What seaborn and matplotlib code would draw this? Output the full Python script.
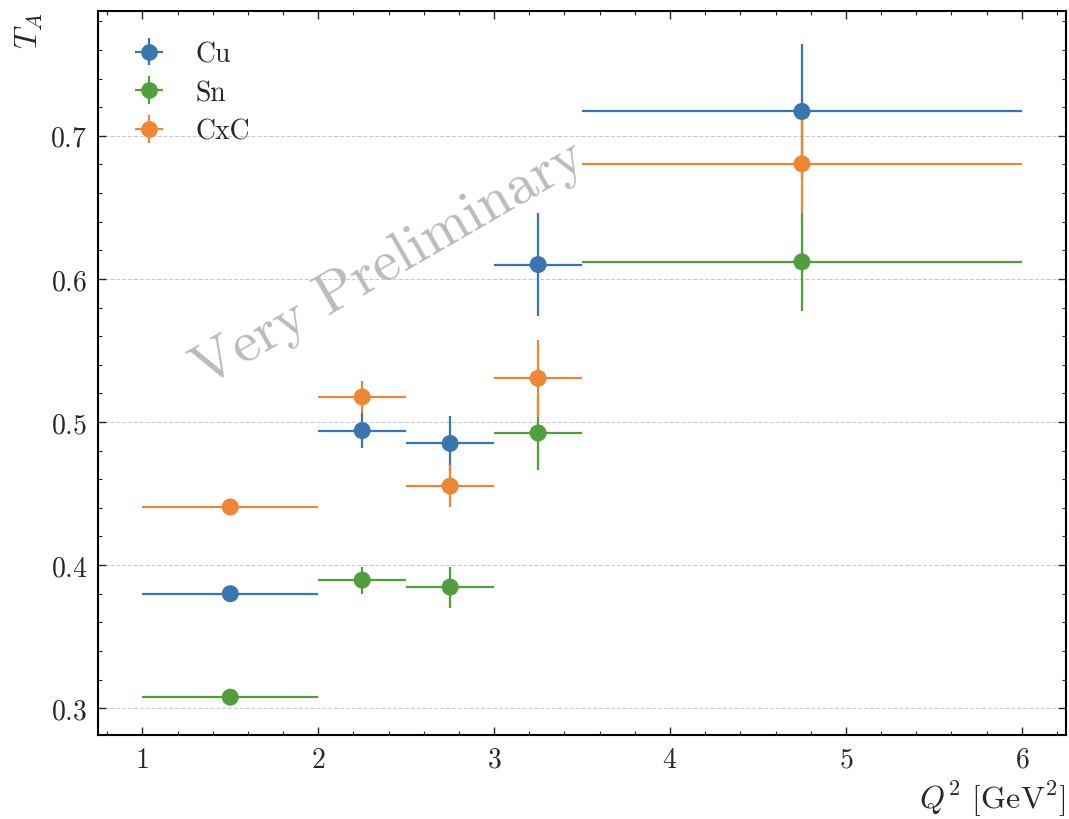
import numpy as np
import pandas as pd
import matplotlib
matplotlib.use("Agg")
import matplotlib.pyplot as plt
import seaborn as sns
from matplotlib.ticker import MultipleLocator

# ---- data ----
bin_lo = [1.0, 2.0, 2.5, 3.0, 3.5]
bin_hi = [2.0, 2.5, 3.0, 3.5, 6.0]
q2_center = [1.5, 2.25, 2.75, 3.25, 4.75]

cu_vals = [0.380, 0.494, 0.485, 0.610, 0.717]
cu_errs = [0.002, 0.0125, 0.019, 0.036, 0.047]

sn_vals = [0.3077, 0.3895, 0.3846, 0.4923, 0.6119]
sn_errs = [0.002, 0.0095, 0.0143, 0.026, 0.034]

cxc_vals = [0.4406, 0.5175, 0.4552, 0.5305, 0.6804]
cxc_errs = [0.002, 0.011, 0.0147, 0.027, 0.0345]

targets = ["Cu", "Sn", "CxC"]
colors = ["#3b75af", "#519e3e", "#ef8636"]

rows = []
for t, vals, errs in zip(targets, [cu_vals, sn_vals, cxc_vals], [cu_errs, sn_errs, cxc_errs]):
    for lo, hi, c, v, e in zip(bin_lo, bin_hi, q2_center, vals, errs):
        rows.append(dict(target=t, lo=lo, hi=hi, q2=c, TA=v, err=e))
df = pd.DataFrame(rows)

sns.set_theme(style="ticks")
plt.rcParams.update({
    "font.family": "serif",
    "font.serif": ["cmr10", "DejaVu Serif"],
    "mathtext.fontset": "cm",
    "axes.formatter.use_mathtext": True,
    "axes.unicode_minus": False,
})

fig, ax = plt.subplots(figsize=(10.69, 8.2), dpi=100)
fig.subplots_adjust(left=0.092, right=0.997, top=0.985, bottom=0.102)

for t, col in zip(targets, colors):
    d = df[df.target == t]
    xerr = [d.q2 - d.lo, d.hi - d.q2]
    ax.errorbar(d.q2, d.TA, xerr=xerr, yerr=d.err, fmt="none",
                ecolor=col, elinewidth=1.6, capsize=0, zorder=2)
sns.scatterplot(data=df, x="q2", y="TA", hue="target", palette=colors,
                hue_order=targets, s=150, edgecolor="none", legend=False,
                ax=ax, zorder=3)

# legend with errorbar-like handles
handles = []
for t, col in zip(targets, colors):
    h = ax.errorbar([], [], xerr=[], yerr=[], fmt="o", color=col, ms=11,
                    elinewidth=1.6, label=t)
    handles.append(h)
ax.legend(handles=handles, labels=targets, loc="upper left", frameon=False,
          fontsize=20, handlelength=1.05, handletextpad=1.15,
          borderaxespad=0.8, labelspacing=0.45, borderpad=0.5,
          bbox_to_anchor=(0.0, 1.009))

ax.set_xlim(0.75, 6.25)
ax.set_ylim(0.281, 0.787)
ax.xaxis.set_major_locator(MultipleLocator(1))
ax.xaxis.set_minor_locator(MultipleLocator(0.2))
ax.yaxis.set_major_locator(MultipleLocator(0.1))
ax.yaxis.set_minor_locator(MultipleLocator(0.02))
ax.tick_params(which="both", direction="in", top=True, right=True, labelsize=20)
ax.tick_params(which="major", length=6, width=1.0, pad=8)
ax.tick_params(which="minor", length=3, width=0.8)
for s in ax.spines.values():
    s.set_linewidth(1.5)
    s.set_color("black")

ax.grid(axis="y", linestyle="--", color="#cccccc", linewidth=0.8)
ax.grid(axis="x", visible=False)
ax.set_axisbelow(True)

ax.set_xlabel(r"$Q^2$ [GeV$^2$]", fontsize=23, loc="right")
ax.set_ylabel(r"$T_A$", fontsize=23, loc="top")

ax.text(0.30, 0.652, "Very Preliminary", transform=ax.transAxes, rotation=30,
        fontsize=42, color="#bbbbbb", ha="center", va="center", zorder=1)

fig.savefig("out.png", dpi=100)
